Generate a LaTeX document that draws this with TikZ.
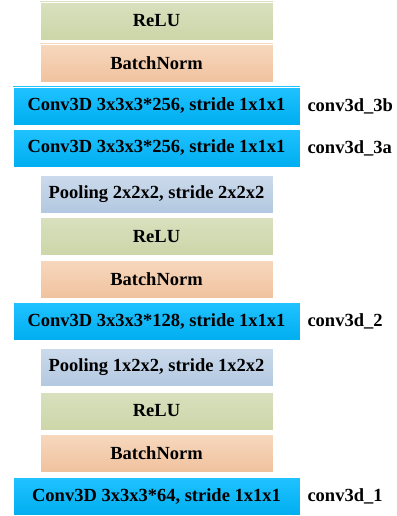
\documentclass[tikz,border=0pt]{standalone}
\usepackage{fontspec}
\setmainfont{Liberation Serif}
\usetikzlibrary{positioning}

\definecolor{reluTop}{RGB}{216,224,190}
\definecolor{reluBot}{RGB}{204,214,168}
\definecolor{bnTop}{RGB}{247,216,190}
\definecolor{bnBot}{RGB}{240,194,158}
\definecolor{convTop}{RGB}{32,194,255}
\definecolor{convBot}{RGB}{0,174,240}
\definecolor{poolTop}{RGB}{204,219,236}
\definecolor{poolBot}{RGB}{178,200,224}

\begin{document}
\begin{tikzpicture}[x=1pt,y=-1pt,
		layer/.style={draw=white, line width=0.6pt, minimum height=38pt, inner sep=0pt,
			font=\fontsize{18.5}{21}\selectfont\bfseries},
		narrow/.style={layer, minimum width=233pt},
		wide/.style={layer, minimum width=287pt},
		relu/.style={narrow, top color=reluTop, bottom color=reluBot},
		bnorm/.style={narrow, top color=bnTop, bottom color=bnBot},
		pool/.style={narrow, top color=poolTop, bottom color=poolBot},
		conv/.style={wide, top color=convTop, bottom color=convBot},
		lbl/.style={inner sep=0pt, font=\fontsize{18.5}{21}\selectfont\bfseries}
	]

		\useasboundingbox (0,0) rectangle (396,516);

		% BLOCK 3
		\node[relu] (relu3) at (156.5,21) {ReLU};
		\node[bnorm] (bn3) at (156.5,63) {BatchNorm};
		\node[conv] (conv3b) at (156.5,106) {Conv3D 3x3x3*256, stride 1x1x1};
		\node[conv] (conv3a) at (156.5,148) {Conv3D 3x3x3*256, stride 1x1x1};
		\node[pool] (pool2) at (156.5,194) {Pooling 2x2x2, stride 2x2x2};

		% BLOCK 2
		\node[relu] (relu2) at (156.5,236.5) {ReLU};
		\node[bnorm] (bn2) at (156.5,279) {BatchNorm};
		\node[conv] (conv2) at (156.5,321.5) {Conv3D 3x3x3*128, stride 1x1x1};
		\node[pool] (pool1) at (156.5,367) {Pooling 1x2x2, stride 1x2x2};

		% BLOCK 1
		\node[relu] (relu1) at (156.5,411) {ReLU};
		\node[bnorm] (bn1) at (156.5,453) {BatchNorm};
		\node[conv] (conv1) at (156.5,496.5) {Conv3D 3x3x3*64, stride 1x1x1};

		% Layer names
		\node[lbl, right=7pt of conv3b] (name3b) {conv3d\_3b};
		\node[lbl, right=7pt of conv3a] (name3a) {conv3d\_3a};
		\node[lbl, right=7pt of conv2] (name2) {conv3d\_2};
		\node[lbl, right=7pt of conv1] (name1) {conv3d\_1};

\end{tikzpicture}
\end{document}
